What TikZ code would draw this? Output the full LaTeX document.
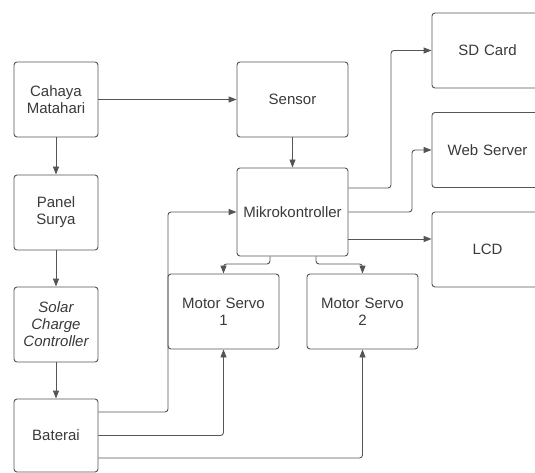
\documentclass[tikz,border=0pt]{standalone}
\usepackage{fontspec}
\setmainfont{Liberation Sans}
\usetikzlibrary{arrows.meta}
\definecolor{ln}{HTML}{555555}
\definecolor{tx}{HTML}{3A3A3A}
\begin{document}
\begin{tikzpicture}[x=1pt,y=-1pt,
  blk/.style={draw=ln,line width=0.9pt,rounded corners=3pt,minimum height=75pt,inner sep=2pt,
    align=center,text=tx,font=\fontsize{15}{17}\selectfont},
  lblk/.style={blk,minimum width=84pt,text width=80pt},
  wblk/.style={blk,minimum width=111pt,text width=105pt},
  arr/.style={draw=ln,line width=0.9pt,rounded corners=3pt,-{Triangle[length=8pt,width=6pt]}}]
\useasboundingbox (0,0) rectangle (535,473);
\clip (0,0) rectangle (535,473);
\fill[white] (0,0) rectangle (535,473);
% left column
\node[lblk] (cahaya) at (56,99.5) {Cahaya\\Matahari};
\node[lblk] (panel) at (56,212.5) {Panel\\Surya};
\node[lblk] (scc) at (56,324.5) {\itshape Solar\\\itshape Charge\\\itshape Controller};
\node[lblk,minimum height=73pt] (bat) at (56,435.5) {Baterai};
% middle
\node[wblk] (sensor) at (292.5,99.5) {Sensor};
\node[wblk,minimum height=88pt] (mikro) at (292.5,212) {Mikrokontroller};
\node[wblk] (ms1) at (223.5,311.5) {Motor Servo\\1};
\node[wblk] (ms2) at (362.5,311.5) {Motor Servo\\2};
% right
\node[wblk] (sd) at (487.5,50.5) {SD Card};
\node[wblk] (web) at (487.5,150) {Web Server};
\node[wblk] (lcd) at (487.5,249.5) {LCD};
% connectors
\draw[arr] (cahaya.east) -- (sensor.west);
\draw[arr] (cahaya.south) -- (panel.north);
\draw[arr] (panel.south) -- (scc.north);
\draw[arr] (scc.south) -- (bat.north);
\draw[arr] (sensor.south) -- (mikro.north);
\draw[arr] (mikro.east |- 0,188) -| (391,0 |- sd.west) -- (sd.west);
\draw[arr] (mikro.east) -| (412,0 |- web.west) -- (web.west);
\draw[arr] (mikro.east |- 0,239) -- (lcd.west |- 0,239);
\draw[arr] (270,0 |- mikro.south) -- (270,264) -| (ms1.north);
\draw[arr] (316,0 |- mikro.south) -- (316,264) -| (ms2.north);
\draw[arr] (bat.east |- 0,412) -| (168,0 |- mikro.west) -- (mikro.west);
\draw[arr] (bat.east) -| (ms1.south);
\draw[arr] (bat.east |- 0,458) -| (ms2.south);
\end{tikzpicture}
\end{document}
